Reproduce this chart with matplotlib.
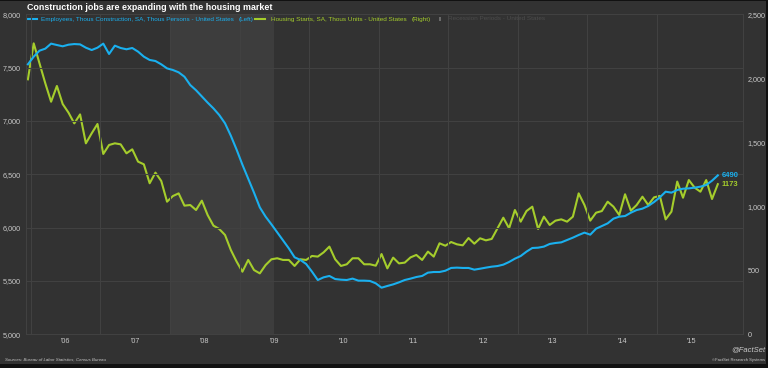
import numpy as np
import matplotlib
matplotlib.use('Agg')
import matplotlib.pyplot as plt
from matplotlib.lines import Line2D
from matplotlib.patches import Rectangle

plt.rcParams['font.family'] = ['Liberation Sans', 'DejaVu Sans']

# monthly data, Dec 2005 .. Nov 2015
start_year, start_month = 2005, 12

# construction employees, thousands (left axis)
employees = [
    7531, 7603, 7659, 7678, 7725, 7712, 7700, 7715, 7721, 7718, 7687, 7665,
    7687, 7725, 7628, 7706, 7684, 7672, 7684, 7650, 7603, 7572, 7562, 7531,
    7493, 7478, 7456, 7415, 7337, 7288, 7230, 7172, 7118, 7056, 6978, 6862,
    6731, 6590, 6459, 6328, 6190, 6103, 6031, 5956, 5881, 5806, 5722, 5697,
    5659, 5587, 5509, 5534, 5547, 5518, 5512, 5509, 5522, 5503, 5503, 5500,
    5478, 5437, 5453, 5468, 5487, 5509, 5522, 5537, 5547, 5578, 5584, 5584,
    5596, 5622, 5625, 5622, 5622, 5606, 5615, 5625, 5634, 5640, 5653, 5678,
    5709, 5734, 5775, 5809, 5812, 5822, 5847, 5856, 5862, 5884, 5906, 5931,
    5953, 5934, 5990, 6015, 6040, 6084, 6103, 6109, 6140, 6165, 6178, 6203,
    6240, 6284, 6337, 6328, 6353, 6365, 6368, 6375, 6384, 6400, 6440, 6490,
]

# housing starts, thousand units (right axis)
housing_starts = [
    1992, 2273, 2117, 1961, 1817, 1940, 1799, 1732, 1648, 1718, 1492, 1570,
    1643, 1409, 1479, 1492, 1484, 1414, 1445, 1349, 1328, 1180, 1263, 1198,
    1036, 1080, 1101, 1005, 1010, 971, 1044, 932, 849, 823, 776, 659,
    568, 489, 581, 502, 476, 541, 586, 594, 581, 581, 534, 586,
    581, 612, 607, 640, 685, 586, 534, 547, 594, 594, 547, 547,
    536, 627, 515, 599, 554, 560, 601, 620, 581, 646, 607, 711,
    692, 721, 703, 695, 752, 708, 750, 734, 745, 828, 911, 828,
    971, 880, 963, 997, 823, 919, 854, 888, 898, 880, 919, 1101,
    1010, 888, 950, 963, 1036, 997, 932, 1094, 966, 1010, 1075, 1010,
    1070, 1081, 898, 958, 1193, 1067, 1205, 1146, 1114, 1205, 1057, 1173,
]

years = list(range(2006, 2016))
year_labels = ["'06", "'07", "'08", "'09", "'10", "'11", "'12", "'13", "'14", "'15"]
left_ticks = [5000, 5500, 6000, 6500, 7000, 7500, 8000]
right_ticks = [0, 500, 1000, 1500, 2000, 2500]
recession = (2008.0, 2009.5)

BLUE = '#1ab0ef'
GREEN = '#a5cd2c'
BG = '#323232'
GRID = '#414141'
TICK = '#c9c9c9'
W, H = 768, 368


def fx(px):
    return px / W


def fy(py):
    return 1 - py / H


# x as decimal year, mid-month
x = np.array([start_year + (start_month - 1 + i + 0.5) / 12 for i in range(len(employees))])

fig = plt.figure(figsize=(W / 100, H / 100), dpi=100, facecolor='#111111')
fig.patches.append(Rectangle((0, fy(364)), fx(766), fy(1) - fy(364), transform=fig.transFigure,
                             facecolor=BG, edgecolor='none', zorder=-10))

ax = fig.add_axes([fx(26), fy(334.3), fx(743) - fx(26), fy(14.3) - fy(334.3)])
ax2 = ax.twinx()
# blue line sits on top of the green one
ax.set_zorder(2)
ax.patch.set_visible(False)
ax2.set_zorder(1)
ax2.patch.set_visible(True)
ax2.patch.set_facecolor(BG)

# recession shading (on the lower axes so it stays behind both lines)
ax2.axvspan(*recession, color='#3d3d3d', zorder=0, lw=0)

ax.plot(x, employees, color=BLUE, lw=1.5, zorder=3)
ax2.plot(x, housing_starts, color=GREEN, lw=1.5, zorder=3)

ax.set_xlim(2005.931, 2016.237)
ax.set_ylim(5000, 8000)
ax2.set_ylim(0, 2500)

# grid: horizontal at left ticks, vertical at year starts
ax.set_yticks(left_ticks)
ax.set_yticklabels([f'{v:,}' for v in left_ticks])
ax.set_xticks([y + 0.5 for y in years])
ax.set_xticklabels(year_labels)
ax.set_xticks(years, minor=True)
ax.grid(axis='y', which='major', color=GRID, lw=0.8, zorder=0)
ax.grid(axis='x', which='minor', color=GRID, lw=0.8, zorder=0)
ax.tick_params(axis='both', which='both', length=0, colors=TICK, labelsize=5.2)
ax.tick_params(axis='y', pad=3.5)
ax.tick_params(axis='x', pad=3)

ax2.set_yticks(right_ticks)
ax2.set_yticklabels([f'{v:,}' for v in right_ticks])
ax2.tick_params(axis='y', length=0, colors=TICK, labelsize=5.2, pad=3.5)

for a in (ax, ax2):
    for s in a.spines.values():
        s.set_color(GRID)
        s.set_linewidth(0.8)
    a.spines['top'].set_visible(False)

# end labels
ax.annotate(f'{employees[-1]}', (x[-1], employees[-1]), xytext=(3, 0), textcoords='offset points',
            color=BLUE, fontsize=5.5, fontweight='bold', va='center', ha='left')
ax2.annotate(f'{housing_starts[-1]}', (x[-1], housing_starts[-1]), xytext=(3, 0), textcoords='offset points',
             color=GREEN, fontsize=5.5, fontweight='bold', va='center', ha='left')

# title
fig.text(fx(27), fy(8), 'Construction jobs are expanding with the housing market',
         color='white', fontsize=6.4, fontweight='bold', va='center', ha='left')

# legend row
ly = fy(19)
fig.add_artist(Line2D([fx(27), fx(37)], [ly, ly], color=BLUE, lw=1.5, transform=fig.transFigure))
fig.text(fx(41), ly, 'Employees, Thous Construction, SA, Thous Persons - United States',
         color=BLUE, fontsize=4.6, va='center', ha='left')
fig.text(fx(239), ly, '(Left)', color=BLUE, fontsize=4.6, va='center', ha='left')
fig.add_artist(Line2D([fx(255), fx(265)], [ly, ly], color=GREEN, lw=1.5, transform=fig.transFigure))
fig.text(fx(271), ly, 'Housing Starts, SA, Thous Units - United States',
         color=GREEN, fontsize=4.6, va='center', ha='left')
fig.text(fx(412), ly, '(Right)', color=GREEN, fontsize=4.6, va='center', ha='left')
fig.patches.append(Rectangle((fx(439), fy(21)), fx(2), fy(17) - fy(21), transform=fig.transFigure,
                             facecolor='#6a6a6a', edgecolor='none'))
fig.text(fx(448), ly, 'Recession Periods - United States', color='#4c4c4c', fontsize=4.6,
         va='center', ha='left')

# footer
fig.text(fx(5), fy(360), 'Sources: Bureau of Labor Statistics, Census Bureau', color=TICK,
         fontsize=3.2, style='italic', va='center', ha='left')
fig.text(fx(765), fy(350), '@FactSet', color=TICK, fontsize=5.5, style='italic',
         va='center', ha='right')
fig.text(fx(765), fy(360), '\u00a9FactSet Research Systems', color=TICK, fontsize=3.0,
         va='center', ha='right')

fig.savefig('out.png', dpi=100, facecolor=fig.get_facecolor())
